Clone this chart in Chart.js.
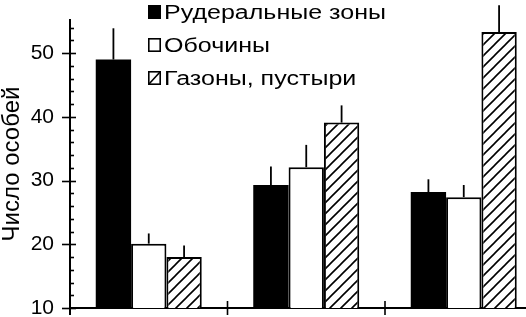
<!DOCTYPE html>
<html>
<head>
<meta charset="utf-8">
<script src="https://cdn.jsdelivr.net/npm/chart.js@4.4.1/dist/chart.umd.min.js"></script>
<style>
  html, body { margin: 0; padding: 0; background: #fff; overflow: hidden; }
  .chart__body { position: relative; width: 560px; height: 317px; }
</style>
</head>
<body>
<div class="chart__body"><canvas id="myChart"></canvas></div>
<script>
// Данные графика
const sites = ["Участок 1", "Участок 2", "Участок 3"];
const seriesNames = ["Рудеральные зоны", "Обочины", "Газоны, пустыри"];
const ruderal = [49, 29.3, 28.2];
const ruderalErr = [53.9, 32.2, 30.2];
const roadside = [20.1, 32.1, 27.4];
const roadsideErr = [21.7, 35.6, 29.3];
const lawns = [18, 39.1, 53.3];
const lawnsErr = [19.8, 41.8, 57.5];
const yLabels = [10, 20, 30, 40, 50];
const yTitle = "Число особей";

const FONT = "'Liberation Sans', Arial, sans-serif";

// штриховка
function makeHatch() {
  const s = 11;
  const c = document.createElement("canvas");
  c.width = s;
  c.height = s;
  const g = c.getContext("2d");
  g.fillStyle = "#fff";
  g.fillRect(0, 0, s, s);
  g.strokeStyle = "#000";
  g.lineWidth = 1.6;
  g.beginPath();
  g.moveTo(-1, s + 1); g.lineTo(s + 1, -1);
  g.moveTo(-1, 1); g.lineTo(1, -1);
  g.moveTo(s - 1, s + 1); g.lineTo(s + 1, s - 1);
  g.stroke();
  return g.createPattern(c, "repeat");
}
const hatch = makeHatch();

const errors = [ruderalErr, roadsideErr, lawnsErr];

const decor = {
  id: "decor",
  afterDatasetsDraw(chart) {
    const ctx = chart.ctx;
    const y = chart.scales.y;
    const x = chart.scales.x;
    const area = chart.chartArea;
    ctx.save();
    ctx.strokeStyle = "#000";
    ctx.lineCap = "butt";

    // планки погрешностей
    ctx.lineWidth = 1.8;
    errors.forEach((errArr, i) => {
      const meta = chart.getDatasetMeta(i);
      meta.data.forEach((bar, j) => {
        ctx.beginPath();
        ctx.moveTo(bar.x, bar.y);
        ctx.lineTo(bar.x, y.getPixelForValue(errArr[j]));
        ctx.stroke();
      });
    });

    // деления оси Y
    ctx.lineWidth = 1.6;
    for (let v = y.min; v <= y.max; v += 2) {
      const py = Math.round(y.getPixelForValue(v)) + 0.5;
      ctx.beginPath();
      if (v % 10 === 0) {
        ctx.moveTo(area.left - 8, py);
        ctx.lineTo(area.left + 6, py);
      } else {
        ctx.moveTo(area.left, py);
        ctx.lineTo(area.left + 4, py);
      }
      ctx.stroke();
    }

    // деления оси X между группами
    for (let i = 0; i < sites.length - 1; i++) {
      const px = (x.getPixelForValue(i) + x.getPixelForValue(i + 1)) / 2;
      ctx.beginPath();
      ctx.moveTo(px, area.bottom - 7);
      ctx.lineTo(px, area.bottom + 7);
      ctx.stroke();
    }
    // ось Y чуть ниже оси X
    ctx.lineWidth = 2;
    ctx.beginPath();
    ctx.moveTo(area.left, area.bottom);
    ctx.lineTo(area.left, area.bottom + 7);
    ctx.stroke();

    // подпись оси Y
    ctx.fillStyle = "#000";
    ctx.font = "24px " + FONT;
    ctx.textAlign = "center";
    ctx.textBaseline = "middle";
    ctx.translate(12, (area.top + area.bottom) / 2);
    ctx.rotate(-Math.PI / 2);
    ctx.fillText(yTitle, 0, 0);
    ctx.restore();

    // легенда
    ctx.save();
    ctx.font = "20px " + FONT;
    const sx = 222 / ctx.measureText(seriesNames[0]).width;
    const rows = [12, 45, 78];
    rows.forEach((ry, i) => {
      const bx = 148, bw = 13, bh = 14, by = ry - 7;
      ctx.lineWidth = 1.6;
      ctx.strokeStyle = "#000";
      if (i === 0) {
        ctx.fillStyle = "#000";
        ctx.fillRect(bx, by, bw, bh);
      } else {
        ctx.fillStyle = "#fff";
        ctx.fillRect(bx, by, bw, bh);
        ctx.strokeRect(bx + 0.8, by + 0.8, bw - 1.6, bh - 1.6);
        if (i === 2) {
          ctx.beginPath();
          ctx.moveTo(bx + 1, by + bh - 1);
          ctx.lineTo(bx + bw - 1, by + 1);
          ctx.stroke();
        }
      }
      ctx.save();
      ctx.fillStyle = "#000";
      ctx.textAlign = "left";
      ctx.textBaseline = "middle";
      ctx.translate(164, ry + 1);
      ctx.scale(sx, 1);
      ctx.fillText(seriesNames[i], 0, 0);
      ctx.restore();
    });
    ctx.restore();
  },
};

const data = {
  labels: sites,
  datasets: [
    {
      label: seriesNames[0],
      data: ruderal,
      backgroundColor: "#000",
      borderWidth: 0,
    },
    {
      label: seriesNames[1],
      data: roadside,
      backgroundColor: "#fff",
      borderColor: "#000",
      borderWidth: 2,
    },
    {
      label: seriesNames[2],
      data: lawns,
      backgroundColor: hatch,
      borderColor: "#000",
      borderWidth: 2,
    },
  ],
};

const config = {
  type: "bar",
  data,
  plugins: [decor],
  options: {
    responsive: true,
    maintainAspectRatio: false,
    animation: false,
    categoryPercentage: 0.673,
    barPercentage: 1,
    layout: { padding: { top: 20, right: 17.5, left: 0, bottom: 0 } },
    scales: {
      x: {
        grid: { display: false, drawTicks: false },
        border: { display: true, color: "#000", width: 2 },
        ticks: { display: false },
        afterFit: (scale) => {
          scale.height = 9;
          scale.paddingLeft = 0;
          scale.paddingRight = 0;
        },
      },
      y: {
        min: 10,
        max: 55.2,
        grid: { display: false, drawTicks: false },
        border: { display: true, color: "#000", width: 2 },
        ticks: {
          stepSize: 2,
          autoSkip: false,
          padding: 16,
          color: "#000",
          font: { family: FONT, size: 21 },
          callback: (v) => (yLabels.includes(v) ? v : ""),
        },
        afterFit: (scale) => {
          scale.width = 70;
          scale.paddingTop = 0;
          scale.paddingBottom = 0;
        },
      },
    },
    plugins: {
      legend: { display: false },
      tooltip: { enabled: false },
    },
  },
};

const myChart = new Chart(document.getElementById("myChart"), config);
</script>
</body>
</html>
